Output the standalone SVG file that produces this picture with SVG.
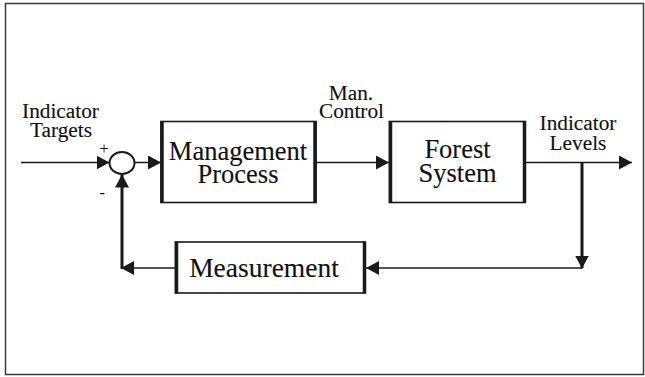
<svg xmlns="http://www.w3.org/2000/svg" width="645" height="377" viewBox="0 0 645 377" font-family="'Liberation Serif', 'Times New Roman', serif">
  <style>
    .frame { fill: #ffffff; stroke: #3a3a3a; stroke-width: 1.5; }
    .box { fill: #ffffff; stroke: #1a1a1a; stroke-width: 1.6; }
    .side { stroke: #1a1a1a; stroke-width: 3.5; }
    .wire { fill: none; stroke: #1a1a1a; stroke-width: 1.5; }
    .heavy { stroke-width: 3; }
    text { font-family: 'Liberation Serif', 'Times New Roman', serif; fill: #111111; stroke: #111111; stroke-width: 0.12; text-anchor: middle; }
    .big { font-size: 26.5px; }
    .meas { font-size: 27.5px; }
    .small { font-size: 21.3px; }
    .sign { font-size: 17px; stroke-width: 0; }
  </style>
  <defs>
    <marker id="arrow" markerUnits="userSpaceOnUse" markerWidth="15" markerHeight="15" refX="13" refY="7" orient="auto">
      <path d="M0,0 L13,7 L0,14 Z" fill="#1a1a1a"/>
    </marker>
  </defs>

  <rect class="frame" x="5.5" y="3.5" width="638" height="371"/>

  <!-- signal connectors -->
  <g id="connectors">
    <path class="wire" d="M21,162.5 H109.5" marker-end="url(#arrow)"/>
    <path class="wire" d="M135,162.5 H161" marker-end="url(#arrow)"/>
    <path class="wire" d="M316,162.5 H389" marker-end="url(#arrow)"/>
    <path class="wire" d="M525,162.5 H632" marker-end="url(#arrow)"/>
    <path class="wire heavy" d="M582,162.5 V268.5" marker-end="url(#arrow)"/>
    <path class="wire" d="M582,268 H366" marker-end="url(#arrow)"/>
    <path class="wire" d="M175,268 H121" marker-end="url(#arrow)"/>
    <path class="wire heavy" d="M122,269 V174.5" marker-end="url(#arrow)"/>
  </g>

  <!-- summing junction -->
  <g id="sum">
    <ellipse cx="122" cy="163" rx="12.5" ry="11" fill="#ffffff" stroke="#1a1a1a" stroke-width="2"/>
    <text class="sign" x="104" y="154">+</text>
    <text class="sign" x="102" y="198">-</text>
  </g>

  <g id="targets">
    <text class="small" x="60.5" y="118">Indicator</text>
    <text class="small" x="61" y="136.5">Targets</text>
  </g>

  <g id="management">
    <rect class="box" x="161" y="121.5" width="155" height="81"/>
    <line class="side" x1="162" y1="121" x2="162" y2="203"/>
    <line class="side" x1="315" y1="121" x2="315" y2="203"/>
    <text class="big" x="238" y="160">Management</text>
    <text class="big" x="238" y="182.5">Process</text>
  </g>

  <g id="control-label">
    <text class="small" x="351" y="100">Man.</text>
    <text class="small" x="351.5" y="118">Control</text>
  </g>

  <g id="forest">
    <rect class="box" x="389.5" y="121.5" width="135.5" height="81"/>
    <line class="side" x1="390.5" y1="121" x2="390.5" y2="203"/>
    <line class="side" x1="524.5" y1="121" x2="524.5" y2="203"/>
    <text class="big" x="457.5" y="158">Forest</text>
    <text class="big" x="457.5" y="181.5">System</text>
  </g>

  <g id="levels">
    <text class="small" x="578" y="130">Indicator</text>
    <text class="small" x="578" y="150">Levels</text>
  </g>

  <g id="measurement">
    <rect class="box" x="175.5" y="242" width="189.5" height="51"/>
    <line class="side" x1="176.5" y1="241.5" x2="176.5" y2="293.5"/>
    <line class="side" x1="364.5" y1="241.5" x2="364.5" y2="293.5"/>
    <text class="meas" x="264" y="277">Measurement</text>
  </g>
</svg>
